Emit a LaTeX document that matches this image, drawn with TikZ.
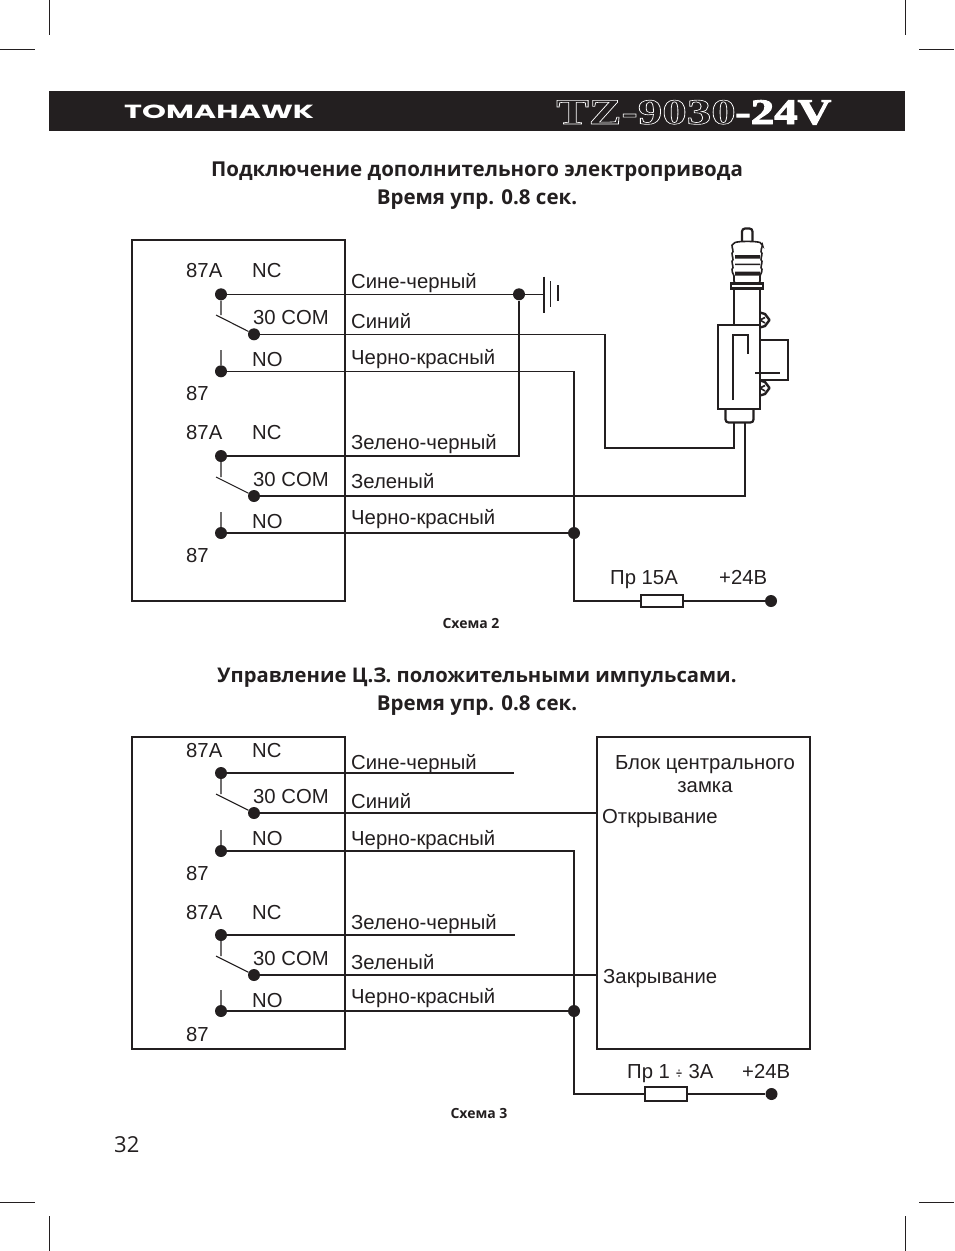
\documentclass[tikz,border=0pt]{standalone}
\usepackage{fontspec}
\setmainfont{Liberation Sans}
\newfontfamily\titlefont{Open Sans}
\newfontfamily\hdrfont{Poppins}
\newfontfamily\modelfont{Liberation Serif}
\definecolor{ink}{HTML}{231F20}
\tikzset{
  lbl/.style={anchor=base west,inner sep=0pt,font=\fontsize{20.3}{20}\selectfont,text=ink},
  lblc/.style={anchor=base,inner sep=0pt,font=\fontsize{20.3}{20}\selectfont,text=ink},
  ttl/.style={anchor=base,inner sep=0pt,font=\titlefont\bfseries\fontsize{20.5}{21}\selectfont,text=ink},
  ttlb/.style={anchor=base,inner sep=0pt,font=\titlefont\bfseries\fontsize{20.2}{21}\selectfont,text=ink},
  captext/.style={anchor=base,inner sep=0pt,font=\titlefont\bfseries\fontsize{14}{14}\selectfont,text=ink},
  dot/.style={circle,fill=ink,inner sep=0pt,minimum size=12pt},
  wire/.style={draw=ink,line width=1.25pt,line join=miter},
  thin wire/.style={draw=ink,line width=1.1pt},
  frame/.style={draw=ink,line width=1.5pt},
  crop/.style={draw=ink,line width=0.9pt},
  part/.style={draw=ink,line width=2.2pt,line join=miter},
  fuse/.style={draw=ink,line width=1.5pt,fill=white}
}
\begin{document}
\begin{tikzpicture}[x=1pt,y=-1pt]
\useasboundingbox (0,0) rectangle (954,1251);
\fill[white] (0,0) rectangle (954,1251);
% crop marks
\draw[crop] (49,0)--(49,35) (0,49)--(35,49) (905,0)--(905,35) (919,49)--(954,49);
\draw[crop] (49,1216)--(49,1251) (0,1202)--(35,1202) (905,1216)--(905,1251) (919,1202)--(954,1202);
% header
\fill[ink] (49,91) rectangle (905,131);
\node[anchor=base west,inner sep=0pt,text=white] (brand) at (124,118) {\hdrfont\bfseries\fontsize{19}{19}\selectfont\scalebox{1.6}[1]{TOMAHAWK}};
\node[anchor=base west,inner sep=0pt] (model) at (556,124) {\modelfont\bfseries\fontsize{36}{36}\selectfont\scalebox{1.36}[1]{\special{pdf:code q 1 Tr 0.6 w 1 1 1 RG}\textcolor{white}{TZ-9030}\special{pdf:code Q}}};
\node[anchor=base west,inner sep=0pt] (volt) at (735,124) {\modelfont\bfseries\fontsize{36}{36}\selectfont\scalebox{1.3}[1]{\special{pdf:code q 2 Tr 0.9 w 1 1 1 RG}\textcolor{white}{-24V}\special{pdf:code Q}}};
% titles
\node[ttl] (t1a) at (477,176) {Подключение дополнительного электропривода};
\node[ttl] (t1b) at (477,204) {Время упр. 0.8 сек.};
\node[captext] (c2) at (471,628.5) {Схема 2};
\node[ttlb] (t2a) at (477,682) {Управление Ц.З. положительными импульсами.};
\node[ttl] (t2b) at (477,710) {Время упр. 0.8 сек.};
\node[captext] (c3) at (479,1118.5) {Схема 3};
\node[anchor=base west,inner sep=0pt,text=ink,font=\titlefont\fontsize{22}{22}\selectfont] (pg) at (114,1152) {32};

% ---------- Scheme 2
\draw[frame] (132,240) rectangle (345,601);
\node[lbl] (a1) at (186,277) {87A};
\node[lbl] (a2) at (252,277) {NC};
\node[lbl] (a3) at (253,324) {30 COM};
\node[lbl] (a4) at (252,366) {NO};
\node[lbl] (a5) at (186,400) {87};
\node[lbl] (a6) at (186,439) {87A};
\node[lbl] (a7) at (252,439) {NC};
\node[lbl] (a8) at (253,486) {30 COM};
\node[lbl] (a9) at (252,528) {NO};
\node[lbl] (a10) at (186,562) {87};
\node[lbl] (w1) at (351,288) {Сине-черный};
\node[lbl] (w2) at (351,328) {Синий};
\node[lbl] (w3) at (351,364) {Черно-красный};
\node[lbl] (w4) at (351,449) {Зелено-черный};
\node[lbl] (w5) at (351,488) {Зеленый};
\node[lbl] (w6) at (351,524) {Черно-красный};
\node[lbl] (f1) at (610,584) {Пр 15А};
\node[lbl] (p1) at (719,584) {+24В};

\node[dot] (d1) at (221,294.3) {};
\node[dot] (d2) at (254,334.3) {};
\node[dot] (d3) at (221,371.3) {};
\node[dot] (d4) at (221,456) {};
\node[dot] (d5) at (254,496) {};
\node[dot] (d6) at (221,533) {};
\node[dot] (g1) at (519,294.3) {};
\node[dot] (j1) at (574,533) {};
\node[dot] (v1) at (771,601) {};
\coordinate (gnd) at (544,294.3);
\coordinate (m1) at (221,315);
\coordinate (m1a) at (216,315);
\coordinate (n1) at (221,350);
\coordinate (m2) at (221,477);
\coordinate (m2a) at (216,477);
\coordinate (n2) at (221,512);
\coordinate (in1) at (734,423);
\coordinate (in2) at (745,423);
\node[fuse,rectangle,minimum width=42pt,minimum height=12pt,inner sep=0pt] (fu1) at (662,601) {};

\draw[thin wire] (d1)--(g1)--(gnd);
\draw[thin wire] (d1)--(m1) (m1a)--(d2) (n1)--(d3);
\draw[wire] (d2)--(605,334.3)--(605,448)--(734,448)--(in1);
\draw[wire] (d3)--(574,371.3)--(574,601)--(fu1.west);
\draw[wire] (fu1.east)--(v1);
\draw[wire] (d4)--(519,456)--(g1);
\draw[thin wire] (d4)--(m2) (m2a)--(d5) (n2)--(d6);
\draw[wire] (d5)--(745,496)--(in2);
\draw[wire] (d6)--(j1);
% ground
\draw[draw=ink,line width=2.6pt] (544,276.5)--(544,312.5);
\draw[draw=ink,line width=1.4pt] (550.5,281)--(550.5,307);
\draw[draw=ink,line width=2.4pt] (558,285)--(558,301);

% actuator
\draw[part,rounded corners=3pt] (742,243)--(742,228.5)--(752.5,228.5)--(752.5,243);
\draw[part,line width=1.6pt,fill=white,rounded corners=2pt] (733,243.5) .. controls (738,241) and (757,241) .. (762,243.5)
  --(763,247)--(760,250)--(763,255)--(760,258)--(763,263)--(760,266)--(763,271)--(760,274)--(760,283)
  --(734,283)--(734,274)--(731,271)--(734,266)--(731,263)--(734,258)--(731,255)--(734,250)--(731,247)--cycle;
\fill[ink] (735,255) rectangle (760,258.5) (735,271.5) rectangle (760,275.5) (735,263.5) rectangle (760,265);
\draw[part] (731,283.5) rectangle (763,288.5);
\draw[part] (734,289)--(734,325) (760,289)--(760,325);
\draw[part] (718,325) rectangle (760,409);
\draw[draw=ink,line width=1.4pt] (733,400)--(733,335)--(748,335)--(748,354);
\draw[part] (760,340)--(788,340)--(788,380)--(760,380);
\draw[draw=ink,line width=1.6pt] (755,373)--(780,373);
\draw[part,rounded corners=3pt] (725.5,409)--(725.5,422.5)--(753.5,422.5)--(753.5,409);
\draw[draw=ink,line width=2.4pt,line join=round] (760,312.5)--(765,314)--(769.5,320)--(765,326)--(760,327.5);
\draw[draw=ink,line width=2.4pt,line join=round] (760,380.5)--(765,382)--(769.5,388)--(765,394)--(760,395.5);
\draw[draw=ink,line width=1.6pt] (760,320)--(765,317.5) (760,320)--(765,323) (760,388)--(765,385.5) (760,388)--(765,391);

% ---------- Scheme 3
\draw[frame] (132,737) rectangle (345,1049);
\draw[frame] (597,737) rectangle (810,1049);
\node[lbl] (b1) at (186,757) {87A};
\node[lbl] (b2) at (252,757) {NC};
\node[lbl] (b3) at (253,803) {30 COM};
\node[lbl] (b4) at (252,845) {NO};
\node[lbl] (b5) at (186,880) {87};
\node[lbl] (b6) at (186,919) {87A};
\node[lbl] (b7) at (252,919) {NC};
\node[lbl] (b8) at (253,965) {30 COM};
\node[lbl] (b9) at (252,1007) {NO};
\node[lbl] (b10) at (186,1041) {87};
\node[lbl] (x1) at (351,769) {Сине-черный};
\node[lbl] (x2) at (351,808) {Синий};
\node[lbl] (x3) at (351,845) {Черно-красный};
\node[lbl] (x4) at (351,929) {Зелено-черный};
\node[lbl] (x5) at (351,969) {Зеленый};
\node[lbl] (x6) at (351,1003) {Черно-красный};
\node[lblc] (y1) at (705,769) {Блок центрального};
\node[lblc] (y2) at (705,792) {замка};
\node[lbl] (y3) at (602,823) {Открывание};
\node[lbl] (y4) at (603,983) {Закрывание};
\node[lbl] (f2) at (627,1078) {Пр 1\hspace{5.5pt}{\fontspec{DejaVu Sans}\fontsize{14}{14}\selectfont\scalebox{0.6}[1.1]{÷}}\hspace{6pt}3А};
\node[lbl] (p2) at (742,1078) {+24В};

\node[dot] (e1) at (221,773) {};
\node[dot] (e2) at (254,813) {};
\node[dot] (e3) at (221,851) {};
\node[dot] (e4) at (221,935) {};
\node[dot] (e5) at (254,975) {};
\node[dot] (e6) at (221,1011) {};
\node[dot] (j2) at (574,1011) {};
\node[dot] (v2) at (771.5,1094) {};
\coordinate (s1) at (514,773);
\coordinate (s2) at (597,813);
\coordinate (s3) at (515,935);
\coordinate (s4) at (597,975);
\coordinate (k1) at (221,794);
\coordinate (k1a) at (216,794);
\coordinate (o1) at (221,830);
\coordinate (k2) at (221,956);
\coordinate (k2a) at (216,956);
\coordinate (o2) at (221,990);
\node[fuse,rectangle,minimum width=42pt,minimum height=14pt,inner sep=0pt] (fu2) at (666,1094) {};

\draw[wire] (e1)--(s1);
\draw[thin wire] (e1)--(k1) (k1a)--(e2) (o1)--(e3);
\draw[wire] (e2)--(s2);
\draw[wire] (e3)--(574,851)--(574,1094)--(fu2.west);
\draw[wire] (fu2.east)--(v2);
\draw[wire] (e4)--(s3);
\draw[thin wire] (e4)--(k2) (k2a)--(e5) (o2)--(e6);
\draw[wire] (e5)--(s4);
\draw[wire] (e6)--(j2);
\end{tikzpicture}
\end{document}
